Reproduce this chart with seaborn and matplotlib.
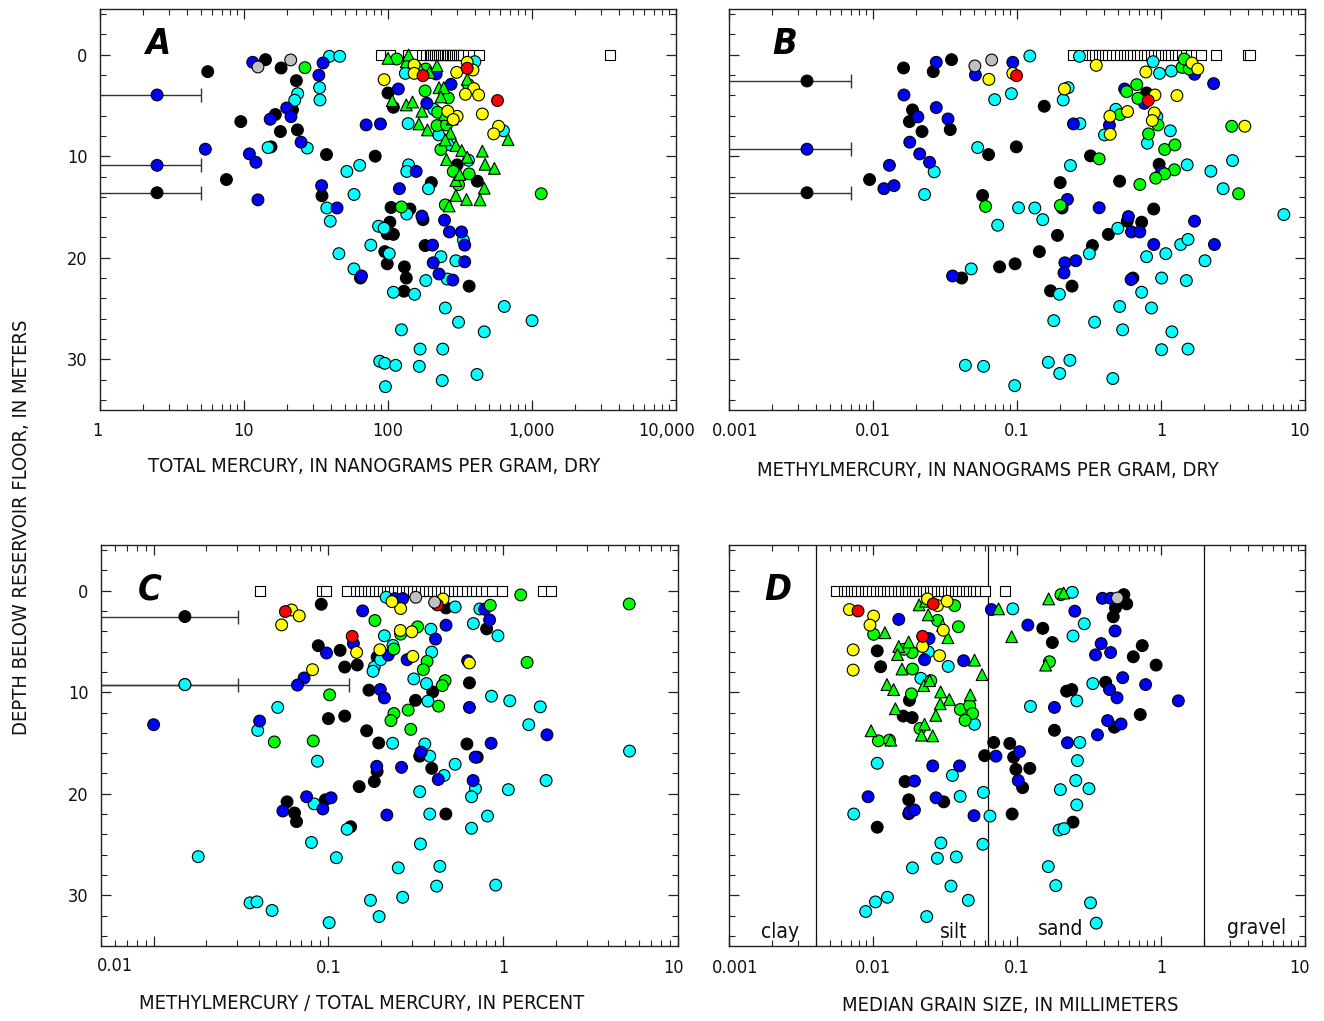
import numpy as np
import pandas as pd
import matplotlib
matplotlib.use("Agg")
import matplotlib.pyplot as plt
import matplotlib.transforms as mtransforms
import seaborn as sns
from matplotlib.ticker import LogLocator, NullFormatter, MultipleLocator

# ================= DATA =================
# ---- Panel A: total mercury (ng/g dry) vs depth (m) ----
A_black_x = [5.6, 14.1, 18.1, 23.1, 100, 109, 16.5, 21.7, 9.5, 17.9, 23.5, 15.4, 37.4, 81.5, 7.55, 34.8, 302, 417, 200, 105, 142,
             103, 98.8, 109, 175, 95, 98.8, 130, 64.4, 134, 366, 129, 181]
A_black_d = [1.67, 0.49, 1.31, 2.56, 3.77, 5.18, 5.9, 5.44, 6.59, 7.57, 7.41, 9.08, 9.84, 10.0, 12.3, 13.9, 10.85, 12.46, 12.6, 15.05, 15.2,
             16.5, 17.65, 17.7, 16.25, 19.4, 20.6, 20.9, 22.0, 22.0, 22.8, 23.3, 18.8]
A_blue_x = [11.5, 35.4, 33.1, 118, 216, 274, 186, 19.8, 21.2, 15.2, 70.5, 88.6, 24.9, 5.39, 10.9, 12.1, 157, 34.6, 12.5, 120, 44.3,
            172, 247, 267, 324, 341, 204, 206, 341, 65.5, 226, 282]
A_blue_d = [0.75, 0.82, 2.03, 3.38, 1.9, 2.92, 4.79, 5.25, 6.1, 6.36, 6.92, 6.82, 8.62, 9.31, 9.77, 10.6, 11.5, 12.9, 14.3, 13.2, 15.1,
            15.9, 16.3, 17.46, 17.46, 18.76, 18.76, 20.5, 20.4, 21.8, 21.6, 22.2]
A_cyan_x = [39.2, 46.2, 33.5, 23.6, 22.5, 33.7, 27.5, 14.7, 138, 208, 225, 260, 362, 401, 132, 634, 139, 135, 63.6, 51.8, 58.1, 37.6,
            191, 135, 39.7, 86, 94, 334, 76, 102, 45.6, 233, 296, 58, 258, 183, 109, 153, 250, 642, 309, 1001, 124, 466, 167, 240,
            87.6, 95, 113, 165, 415, 238, 96]
A_cyan_d = [0.16, 0.16, 3.25, 3.84, 4.49, 4.46, 9.2, 9.15, 6.79, 5.38, 7.9, 8.85, 10.4, 0.69, 1.84, 7.5, 10.85, 11.5, 10.9, 11.5, 13.77,
            15.1, 13.2, 15.7, 16.4, 16.9, 17.1, 18.27, 18.76, 19.6, 19.6, 19.9, 20.3, 21.1, 22.1, 22.25, 23.4, 23.6, 24.95, 24.8,
            26.35, 26.2, 27.1, 27.3, 29.0, 29.0, 30.2, 30.4, 30.6, 30.7, 31.5, 32.1, 32.7]
A_green_x = [26.5, 115, 183, 181, 262, 219, 255, 233, 284, 366, 309, 1159, 124, 250, 221, 362]
A_green_d = [1.28, 0.43, 1.41, 3.57, 4.26, 6.98, 6.92, 9.34, 11.5, 11.74, 12.8, 13.7, 15.0, 14.8, 5.67, 2.95]
A_tri_x = [100, 134, 139, 167, 194, 219, 226, 244, 233, 355, 107, 134, 148, 172, 247, 279, 164, 188, 271, 250, 296, 325, 355,
           452, 682, 255, 472, 548, 296, 315, 466, 296, 351, 436, 266]
A_tri_d = [0.36, 0.69, 0.03, 1.41, 1.74, 1.08, 3.25, 3.25, 4.16, 2.43, 4.52, 4.95, 4.66, 5.57, 5.9, 6.33, 6.82, 7.41, 7.74, 8.39,
           8.95, 9.44, 10.1, 9.5, 8.36, 10.33, 10.8, 11.2, 12.4, 11.8, 13.15, 13.87, 14.26, 14.3, 14.9]
A_yellow_x = [94, 152, 152, 300, 355, 389, 394, 345, 426, 302, 260, 284, 452, 586, 542]
A_yellow_d = [2.46, 1.02, 1.84, 1.74, 0.75, 1.51, 3.34, 3.9, 3.97, 6.07, 5.57, 6.39, 5.84, 7.05, 7.8]
A_red_x = [175, 355, 576]
A_red_d = [2.07, 1.34, 4.52]
A_gray_x = [12.5, 21.1]
A_gray_d = [1.21, 0.52]
A_sq_x = [89.7, 103, 138, 151, 172, 183, 195, 200, 205, 212, 218, 225, 232, 240, 248, 255, 262, 270, 278, 285, 292, 300,
          310, 320, 330, 362, 389, 431, 3478]
# below-detection values (point, depth, upper bound)
A_err_x = [2.49, 2.49, 2.49]
A_err_d = [3.97, 10.9, 13.6]
A_err_hi = [5.0, 5.0, 5.0]
A_err_col = ["#0000FF", "#0000FF", "#000000"]

# ---- Panel B: methylmercury (ng/g dry) ----
B_black_x = [0.0163, 0.0351, 0.0262, 0.0188, 0.0179, 0.0219, 0.0344, 0.1546, 0.794, 0.0635, 0.0989, 0.324, 0.970, 0.00947,
             0.516, 0.1995, 0.0577, 0.2056, 0.89, 0.191, 0.583, 0.734, 0.431, 0.334, 0.143, 0.0757, 0.097, 0.0413, 0.638,
             0.171, 0.241]
B_black_d = [1.31, 0.49, 1.67, 5.44, 6.59, 7.57, 7.38, 5.08, 3.77, 9.84, 9.08, 9.97, 10.8, 12.3, 12.46, 12.6, 13.87, 15.1,
             15.2, 17.8, 16.4, 16.5, 17.7, 18.8, 19.4, 20.9, 20.6, 22.0, 22.0, 23.26, 22.8]
B_blue_x = [0.0275, 0.0514, 0.0935, 1.71, 2.32, 0.559, 0.766, 0.0164, 0.0275, 0.0205, 0.0332, 0.2466, 0.4385, 0.018, 0.0211,
            0.0247, 0.013, 0.0119, 0.014, 1.01, 0.2239, 0.372, 0.594, 1.71, 0.624, 0.713, 0.891, 2.35, 0.215, 0.256, 0.212,
            0.0357, 0.62]
B_blue_d = [0.75, 2.0, 0.75, 1.93, 2.85, 3.38, 4.79, 3.97, 5.21, 6.13, 6.33, 6.82, 6.95, 8.62, 9.77, 10.6, 10.9, 13.2, 12.9,
            11.57, 14.26, 15.08, 15.95, 16.4, 17.46, 17.46, 18.7, 18.7, 20.5, 20.3, 21.5, 21.8, 22.15]
B_cyan_x = [0.1228, 0.2716, 0.881, 0.977, 1.18, 0.2265, 0.07, 0.0914, 0.2094, 0.486, 0.2735, 0.936, 1.16, 0.405, 0.804,
            0.0533, 0.0266, 0.235, 1.52, 3.14, 2.22, 2.70, 0.0228, 0.1025, 0.133, 7.13,
            0.0734, 0.151, 0.501, 1.37, 1.54, 0.318, 0.794, 1.08, 2.02, 0.0481, 1.01, 1.50, 0.197, 0.734, 0.516, 0.859,
            0.18, 0.346, 0.542, 1.19, 1.01, 1.54, 0.0438, 0.0586, 0.165, 0.233, 0.198, 0.463, 0.0964]
B_cyan_d = [0.13, 0.16, 0.69, 1.84, 1.61, 3.25, 4.43, 3.84, 4.46, 5.38, 6.79, 6.1, 7.5, 7.9, 8.72, 9.15, 11.54, 10.92, 10.85,
            10.43, 11.48, 13.2, 13.77, 15.08, 15.1, 15.75,
            16.8, 16.25, 17.1, 18.7, 18.2, 19.6, 19.9, 19.6, 20.3, 21.1, 22.0, 22.25, 23.6, 23.4, 24.8, 24.95,
            26.2, 26.35, 27.1, 27.3, 29.06, 29.0, 30.6, 30.7, 30.3, 30.1, 31.4, 31.9, 32.6]
B_green_x = [0.679, 0.577, 0.691, 0.52, 0.953, 0.819, 1.06, 1.25, 0.372, 3.10, 1.24, 1.06, 0.919, 0.713, 3.46, 0.0605,
             1.40, 1.57, 1.45, 0.2]
B_green_d = [2.95, 3.64, 4.3, 5.9, 6.92, 7.8, 9.34, 8.89, 10.26, 7.05, 11.34, 11.74, 12.16, 12.79, 13.7, 14.95,
             1.25, 1.41, 0.43, 14.85]
B_yellow_x = [0.0638, 0.0935, 0.355, 0.785, 1.64, 1.80, 0.2134, 0.908, 1.29, 0.4415, 0.586, 0.898, 0.87, 0.444, 3.82]
B_yellow_d = [2.43, 1.84, 1.05, 1.7, 0.82, 1.41, 3.38, 3.97, 4.03, 6.07, 5.6, 5.74, 6.49, 7.84, 7.05]
B_red_x = [0.0993, 0.815]
B_red_d = [2.07, 4.52]
B_gray_x = [0.051, 0.0667]
B_gray_d = [1.11, 0.52]
B_sq_x = [0.2466, 0.31, 0.33, 0.35, 0.37, 0.39, 0.41, 0.43, 0.46, 0.49, 0.52, 0.55, 0.58, 0.61, 0.64, 0.68, 0.72, 0.76,
          0.80, 0.85, 0.90, 0.95, 1.0, 1.06, 1.12, 1.18, 1.25, 1.32, 1.40, 1.50, 1.62, 1.75, 1.9, 2.42, 4.0, 4.18]
B_err_x = [0.00348, 0.00348, 0.00348]
B_err_d = [2.59, 9.31, 13.6]
B_err_hi = [0.0070, 0.0070, 0.0070]
B_err_col = ["#000000", "#0000FF", "#000000"]

# ---- Panel C: methylmercury / total mercury (percent) ----
C_black_x = [0.091, 0.471, 0.804, 0.0875, 0.1167, 0.124, 0.1462, 0.19, 0.641, 0.1706, 0.395, 0.315, 0.1, 0.124, 0.1655,
             0.194, 0.62, 0.333, 0.39, 0.71, 0.19, 0.183, 0.15, 0.058, 0.096, 0.064, 0.0657, 0.47, 0.134]
C_black_d = [1.34, 1.7, 3.76, 5.42, 5.88, 7.52, 7.32, 6.54, 9.08, 9.8, 9.97, 10.8, 12.6, 12.35, 13.8, 15.0, 15.1, 16.3,
             17.5, 16.4, 17.8, 18.8, 19.3, 20.8, 20.6, 21.9, 22.75, 22.0, 23.25]
C_blue_x = [0.240, 0.266, 0.157, 0.783, 0.836, 0.471, 0.41, 0.139, 0.0975, 0.22, 0.282, 0.626, 0.0726, 0.0665, 0.198,
            0.209, 0.641, 0.01, 0.0404, 1.78, 0.853, 0.339, 0.692, 0.189, 0.262, 0.425, 0.673, 0.075, 0.1035, 0.0549,
            0.093, 0.216]
C_blue_d = [0.78, 0.78, 1.99, 1.83, 2.88, 3.4, 4.77, 5.2, 6.14, 6.34, 6.8, 6.9, 8.6, 9.3, 9.74, 10.56, 11.5, 13.2, 12.84,
            14.2, 15.03, 15.9, 16.4, 17.3, 17.4, 18.6, 18.7, 20.3, 20.4, 21.7, 21.5, 22.1]
C_cyan_x = [0.214, 0.531, 0.735, 0.675, 0.933, 0.209, 0.386, 0.39, 0.234, 0.183, 0.18, 0.199, 0.308, 0.364, 0.371, 0.857,
            1.09, 1.63, 1.40, 0.0513, 0.0394, 0.233, 0.356, 0.38, 0.531, 0.0865, 5.28, 0.459, 0.694, 1.76, 1.07, 0.333,
            0.659, 0.0828, 0.38, 0.813, 0.659, 0.128, 0.08, 0.336, 0.018, 0.111, 0.251, 0.434, 0.416, 0.906, 0.0356,
            0.039, 0.0476, 0.174, 0.266, 0.195, 0.101]
C_cyan_d = [0.65, 1.6, 1.8, 3.24, 4.44, 4.44, 3.79, 6.05, 5.39, 7.52, 7.94, 6.8, 8.69, 9.15, 10.88, 10.39, 10.85, 11.44,
            13.2, 11.5, 13.76, 15.03, 15.1, 16.3, 17.1, 16.8, 15.8, 18.2, 19.5, 18.7, 19.6, 19.8, 20.3, 21.0, 22.0, 22.2,
            23.4, 23.5, 24.8, 24.95, 26.2, 26.3, 27.3, 27.15, 29.1, 29.0, 30.75, 30.65, 31.5, 30.5, 30.2, 32.1, 32.7]
C_green_x = [0.1845, 0.324, 0.259, 0.237, 0.367, 0.349, 0.465, 0.448, 0.427, 0.843, 1.26, 5.26, 1.37, 0.1016, 0.286,
             0.237, 0.228, 0.296, 0.0819, 0.049]
C_green_d = [2.94, 3.56, 4.28, 5.75, 6.96, 7.78, 8.86, 9.35, 11.37, 1.44, 0.42, 1.31, 7.06, 10.26, 11.76, 12.1, 12.8,
             13.66, 14.8, 14.9]
C_yellow_x = [0.0616, 0.0681, 0.054, 0.259, 0.231, 0.453, 0.258, 0.3, 0.197, 0.145, 0.304, 0.0811, 0.641]
C_yellow_d = [1.9, 2.48, 3.37, 1.76, 1.08, 0.82, 3.92, 4.05, 5.82, 6.08, 6.47, 7.78, 7.12]
C_red_x = [0.0567, 0.1368, 0.42]
C_red_d = [2.06, 4.5, 1.4]
C_gray_x = [0.316, 0.405]
C_gray_d = [0.65, 1.14]
C_sq_x = [0.0404, 0.0919, 0.0975, 0.127, 0.144, 0.152, 0.16, 0.168, 0.176, 0.185, 0.195, 0.205, 0.215, 0.226, 0.238,
          0.25, 0.263, 0.277, 0.291, 0.306, 0.322, 0.339, 0.357, 0.376, 0.396, 0.417, 0.44, 0.465, 0.49, 0.52, 0.55,
          0.58, 0.62, 0.66, 0.70, 0.75, 0.80, 0.865, 0.99, 1.68, 1.87]
C_err_x = [0.0151, 0.0151, 0.0151]
C_err_d = [2.55, 9.25, 9.25]
C_err_hi = [0.0304, 0.0304, 0.132]
C_err_col = ["#000000", "#00FFFF", "#00FFFF"]

# ---- Panel D: median grain size (mm) ----
D_black_x = [0.552, 0.483, 0.578, 0.466, 0.151, 0.176, 0.741, 0.642, 0.925, 0.0107, 0.0113, 0.0179, 0.0162, 0.0187,
             0.221, 0.24, 0.413, 0.718, 0.182, 0.474, 0.0689, 0.0891, 0.0596, 0.0948, 0.0983, 0.1227,
             0.0167, 0.1094, 0.0177, 0.031, 0.0177, 0.0925, 0.0107, 0.245]
D_black_d = [0.39, 1.69, 1.3, 2.57, 3.71, 5.11, 5.41, 6.51, 7.33, 5.93, 7.49, 10.8, 12.35, 12.5, 9.9, 9.74, 9.02, 12.2,
             13.75, 13.45, 14.95, 15.05, 16.25, 16.4, 17.6, 17.5, 18.8, 19.4, 20.6, 20.8, 21.97, 22.0, 23.3, 22.8]
D_blue_x = [0.0151, 0.0664, 0.0245, 0.0228, 0.0426, 0.119, 0.252, 0.392, 0.447, 0.48, 0.384, 0.351, 0.447, 0.542, 0.782,
            0.439, 0.495, 1.32, 0.182, 0.426, 0.528, 0.362, 0.224, 0.104, 0.0714, 0.026, 0.0399,
            0.0194, 0.102, 0.00925, 0.0274, 0.0179, 0.0194, 0.0503]
D_blue_d = [2.83, 1.86, 4.72, 6.8, 6.9, 3.39, 2.02, 0.75, 0.75, 3.97, 5.21, 6.32, 6.09, 8.57, 9.25, 9.74, 10.55, 10.85,
            11.5, 12.8, 13.13, 14.2, 14.98, 15.86, 16.3, 17.26, 17.26, 18.75, 18.7, 20.3, 20.4, 21.8, 21.6, 22.16]
D_cyan_x = [0.0935, 0.242, 0.293, 0.245, 0.0242, 0.0333, 0.0215, 0.336, 0.26, 0.124, 0.0507, 0.273, 0.263, 0.0107,
            0.0356, 0.256, 0.2, 0.316, 0.0403, 0.0585, 0.26, 0.00735, 0.0649, 0.196, 0.212, 0.0296, 0.058, 0.028,
            0.0379, 0.0188, 0.165, 0.0348, 0.186, 0.0126, 0.0104, 0.0089, 0.0459, 0.324, 0.0236, 0.355]
D_cyan_d = [1.79, 0.16, 3.26, 4.46, 6.03, 7.46, 8.63, 9.15, 10.85, 11.4, 13.16, 14.95, 16.74, 17.0, 18.2, 18.7, 19.6,
            19.5, 20.26, 19.87, 21.1, 22.0, 22.2, 23.57, 23.44, 24.85, 24.98, 26.36, 26.23, 27.3, 27.18, 29.1, 29.05,
            30.2, 30.66, 31.6, 30.5, 30.75, 32.1, 32.75]
D_green_x = [0.0101, 0.0369, 0.0392, 0.0281, 0.0187, 0.0164, 0.0188, 0.0252, 0.0185, 0.0404, 0.0469, 0.0492, 0.0436,
             0.0212, 0.0109, 0.013, 0.2017, 0.168]
D_green_d = [4.3, 1.47, 3.55, 2.93, 6.1, 5.77, 7.72, 8.86, 10.16, 11.7, 11.3, 12.1, 12.77, 13.58, 14.79, 14.72, 0.39, 7.0]
D_tri_x = [0.0209, 0.0232, 0.0242, 0.0304, 0.0331, 0.0121, 0.0151, 0.0177, 0.0148, 0.0159, 0.0507, 0.0572, 0.0125,
           0.0139, 0.0295, 0.0474, 0.0293, 0.0339, 0.0143, 0.0273, 0.0228, 0.0217, 0.026, 0.0097, 0.0133, 0.0745,
           0.0918, 0.166, 0.211, 0.158, 0.0225, 0.0247]
D_tri_d = [1.4, 1.04, 2.38, 3.42, 4.63, 4.14, 5.5, 5.05, 6.29, 7.72, 6.84, 8.27, 9.25, 9.74, 9.97, 10.26, 11.14, 10.72,
           11.63, 12.28, 13.16, 14.23, 14.3, 13.8, 14.72, 1.79, 4.53, 0.81, 0.23, 7.33, 9.35, 8.86]
D_yellow_x = [0.00686, 0.0101, 0.00953, 0.00728, 0.00728, 0.0281, 0.0327, 0.0239, 0.0308, 0.0221, 0.029]
D_yellow_d = [1.86, 2.5, 3.39, 5.83, 7.82, 1.47, 1.04, 0.81, 3.9, 5.5, 6.4]
D_red_x = [0.00787, 0.0262, 0.0221]
D_red_d = [2.0, 1.3, 4.5]
D_gray_x = [0.498]
D_gray_d = [0.72]
D_sq_x = [0.00555, 0.00625, 0.0066, 0.0070, 0.0074, 0.0078, 0.0083, 0.0088, 0.0093, 0.0099, 0.0105, 0.0111, 0.0118,
          0.0125, 0.0132, 0.014, 0.0148, 0.0157, 0.0166, 0.0176, 0.0186, 0.0197, 0.0209, 0.0221, 0.0234, 0.0248,
          0.0263, 0.0278, 0.0295, 0.0312, 0.033, 0.035, 0.037, 0.0392, 0.0415, 0.044, 0.0466, 0.0494, 0.0523,
          0.0555, 0.0596, 0.083]
D_class_bounds = [0.004, 0.0625, 2.0]
D_class_names = ["clay", "silt", "sand", "gravel"]

# ================= STYLE =================
sns.set_theme(style="ticks")
plt.rcParams["font.family"] = ["DejaVu Sans"]
plt.rcParams["font.stretch"] = "condensed"
TXT = "#111111"

palette = {"black": "#000000", "cyan": "#00FFFF", "blue": "#0000FF", "green": "#00FF00",
           "tri": "#00FF00", "yellow": "#FFFF00", "red": "#FF0000", "gray": "#C0C0C0"}
markers = {"black": "o", "cyan": "o", "blue": "o", "green": "o", "tri": "^",
           "yellow": "o", "red": "o", "gray": "o"}
order = ["black", "cyan", "blue", "green", "tri", "yellow", "red", "gray"]


def make_df(groups):
    frames = []
    for g in order:
        if g in groups:
            xs, ds = groups[g]
            frames.append(pd.DataFrame({"x": xs, "depth": ds, "group": g}))
    return pd.concat(frames, ignore_index=True)


panels = {
    "A": dict(groups={"black": (A_black_x, A_black_d), "blue": (A_blue_x, A_blue_d), "cyan": (A_cyan_x, A_cyan_d),
                      "green": (A_green_x, A_green_d), "tri": (A_tri_x, A_tri_d), "yellow": (A_yellow_x, A_yellow_d),
                      "red": (A_red_x, A_red_d), "gray": (A_gray_x, A_gray_d)},
              sq=A_sq_x, err=(A_err_x, A_err_d, A_err_hi, A_err_col), xlim=(1, 10000),
              ticks=[1, 10, 100, 1000, 10000], labels=["1", "10", "100", "1,000", "10,000"],
              shift={0: -3, 4: -9}, rect=(100, 9, 676, 410)),
    "B": dict(groups={"black": (B_black_x, B_black_d), "blue": (B_blue_x, B_blue_d), "cyan": (B_cyan_x, B_cyan_d),
                      "green": (B_green_x, B_green_d), "yellow": (B_yellow_x, B_yellow_d),
                      "red": (B_red_x, B_red_d), "gray": (B_gray_x, B_gray_d)},
              sq=B_sq_x, err=(B_err_x, B_err_d, B_err_hi, B_err_col), xlim=(0.001, 10),
              ticks=[0.001, 0.01, 0.1, 1, 10], labels=["0.001", "0.01", "0.1", "1", "10"],
              shift={0: 6, 4: -5}, rect=(729, 9, 1305, 410)),
    "C": dict(groups={"black": (C_black_x, C_black_d), "blue": (C_blue_x, C_blue_d), "cyan": (C_cyan_x, C_cyan_d),
                      "green": (C_green_x, C_green_d), "yellow": (C_yellow_x, C_yellow_d),
                      "red": (C_red_x, C_red_d), "gray": (C_gray_x, C_gray_d)},
              sq=C_sq_x, err=(C_err_x, C_err_d, C_err_hi, C_err_col), xlim=(0.005, 10),
              ticks=[0.01, 0.1, 1, 10], labels=["", "0.1", "1", "10"],
              shift={3: -4}, rect=(101, 545, 678, 946)),
    "D": dict(groups={"black": (D_black_x, D_black_d), "blue": (D_blue_x, D_blue_d), "cyan": (D_cyan_x, D_cyan_d),
                      "green": (D_green_x, D_green_d), "tri": (D_tri_x, D_tri_d), "yellow": (D_yellow_x, D_yellow_d),
                      "red": (D_red_x, D_red_d), "gray": (D_gray_x, D_gray_d)},
              sq=D_sq_x, err=None, xlim=(0.001, 10),
              ticks=[0.001, 0.01, 0.1, 1, 10], labels=["0.001", "0.01", "0.1", "1", "10"],
              shift={0: 6, 4: -5}, rect=(729, 545, 1305, 946)),
}

W, H = 1324, 1021
fig = plt.figure(figsize=(W / 100, H / 100), dpi=100)
fig.patch.set_facecolor("white")

edge = "#222222"
for name, p in panels.items():
    l, t, r, b = p["rect"]
    ax = fig.add_axes([l / W, 1 - b / H, (r - l) / W, (b - t) / H])
    ax.set_xscale("log")

    if name == "D":
        for v in D_class_bounds:
            ax.axvline(v, color="#111111", lw=0.9, zorder=1)

    # below-detection error bars
    if p["err"] is not None:
        ex, ed, eh, ec = p["err"]
        for x0, d0, hi, c in zip(ex, ed, eh, ec):
            ax.errorbar([x0], [d0], xerr=[[x0 - 1e-7], [hi - x0]], fmt="none", ecolor="#333333",
                        elinewidth=1.0, capsize=5, capthick=1.0, zorder=2)

    # surface samples (open squares)
    sns.scatterplot(x=p["sq"], y=[0.0] * len(p["sq"]), marker="s", color="white", edgecolor="black",
                    s=48, linewidth=0.8, ax=ax, zorder=2, legend=False)

    df = make_df(p["groups"])
    sns.scatterplot(data=df, x="x", y="depth", hue="group", style="group", palette=palette, markers=markers,
                    s=72, edgecolor="black", linewidth=0.8, legend=False, ax=ax, zorder=3)

    if p["err"] is not None:
        ex, ed, eh, ec = p["err"]
        ax.scatter(ex, ed, s=72, c=ec, edgecolors="black", linewidths=0.8, zorder=4)

    ax.set_xlim(*p["xlim"])
    ax.set_ylim(35, -4.5)
    ax.set_xticks(p["ticks"])
    ax.set_xticklabels(p["labels"])
    ax.xaxis.set_minor_locator(LogLocator(base=10, subs=np.arange(2, 10), numticks=30))
    ax.xaxis.set_minor_formatter(NullFormatter())
    ax.set_yticks([0, 10, 20, 30])
    ax.yaxis.set_minor_locator(MultipleLocator(2))
    if name in ("B", "D"):
        ax.set_yticklabels([])
    ax.set_xlabel("")
    ax.set_ylabel("")
    ax.tick_params(which="both", direction="in", top=True, right=True, color=edge, labelsize=13,
                   labelcolor=TXT)
    ax.tick_params(which="major", length=7, width=0.9, pad=9)
    ax.tick_params(which="minor", length=4, width=0.8)
    for i, lab in enumerate(ax.get_xticklabels()):
        if i in p["shift"]:
            lab.set_transform(lab.get_transform() +
                              mtransforms.ScaledTranslation(p["shift"][i] / 100, 0, fig.dpi_scale_trans))
    for s in ax.spines.values():
        s.set_color(edge)
        s.set_linewidth(1.0)
    ax.set_facecolor("white")

# panel letters
for letter, (x, y) in {"A": (158, 44), "B": (785, 44), "C": (150, 590), "D": (778, 590)}.items():
    fig.text(x / W, 1 - y / H, letter, ha="center", va="center", fontsize=26, fontweight="bold",
             fontstyle="italic", color="black")

# the 0.01 label of panel C sits at the left edge in the original
fig.text(115 / W, 1 - 966 / H, "0.01", ha="center", va="center", fontsize=13, color=TXT)

# grain size classes
for txt, (x, y) in zip(D_class_names, [(780, 932), (954, 932), (1061, 929), (1257, 928)]):
    fig.text(x / W, 1 - y / H, txt, ha="center", va="center", fontsize=15, color=TXT)

# axis titles
fig.text(374 / W, 1 - 466 / H, "TOTAL MERCURY, IN NANOGRAMS PER GRAM, DRY", ha="center", va="center",
         fontsize=14.5, color=TXT)
fig.text(988 / W, 1 - 470 / H, "METHYLMERCURY, IN NANOGRAMS PER GRAM, DRY", ha="center", va="center",
         fontsize=14.5, color=TXT)
fig.text(362 / W, 1 - 1003 / H, "METHYLMERCURY / TOTAL MERCURY, IN PERCENT", ha="center", va="center",
         fontsize=14.5, color=TXT)
fig.text(1010 / W, 1 - 1005 / H, "MEDIAN GRAIN SIZE, IN MILLIMETERS", ha="center", va="center",
         fontsize=14.5, color=TXT)
fig.text(22 / W, 1 - 527 / H, "DEPTH BELOW RESERVOIR FLOOR, IN METERS", ha="center", va="center",
         rotation=90, fontsize=14.5, color=TXT)

fig.savefig("out.png", dpi=100, facecolor="white")
